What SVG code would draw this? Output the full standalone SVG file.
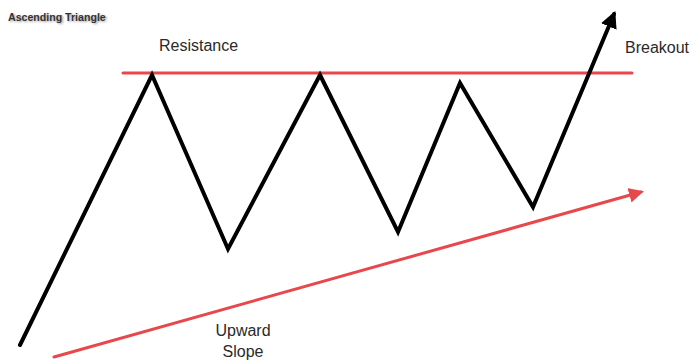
<svg xmlns="http://www.w3.org/2000/svg" width="692" height="362" viewBox="0 0 692 362">
  <defs>
    <style>
      .lbl { font-family: "Liberation Sans", Arial, sans-serif; font-size: 16px; fill: #2a2a2a; }
      .title { font-family: "Liberation Sans", Arial, sans-serif; font-size: 10.6px; fill: #333; font-weight: bold; }
      .red { stroke: #e8474c; stroke-width: 3; fill: none; stroke-linecap: round; }
      .blk { stroke: #000; stroke-width: 4; fill: none; stroke-linejoin: miter; stroke-linecap: round; }
    </style>
    <filter id="sh" x="-10%" y="-50%" width="120%" height="200%">
      <feGaussianBlur stdDeviation="1"/>
    </filter>
    <marker id="ab" viewBox="0 0 10 10" refX="8" refY="5" markerWidth="4.2" markerHeight="4.2" orient="auto" markerUnits="strokeWidth">
      <path d="M0,0 L10,5 L0,10 z" fill="#000"/>
    </marker>
    <marker id="ar" viewBox="0 0 10 10" refX="8" refY="5" markerWidth="5" markerHeight="5" orient="auto" markerUnits="strokeWidth">
      <path d="M0,0 L10,5 L0,10 z" fill="#e8474c"/>
    </marker>
  </defs>
  <rect width="692" height="362" fill="#fff"/>

  <g id="title">
    <text x="9.5" y="22" font-family="Liberation Sans, Arial, sans-serif" font-size="10.6" font-weight="bold" fill="#999" filter="url(#sh)">Ascending Triangle</text>
    <text x="8" y="21" class="title">Ascending Triangle</text>
  </g>

  <g id="connectors">
    <line id="resistance-line" class="red" x1="123" y1="73" x2="632" y2="73"/>
    <line id="upward-slope-line" class="red" x1="54" y1="357" x2="641" y2="192" marker-end="url(#ar)"/>
    <polyline id="price" class="blk" points="20,345 152,75 228,249 320,75 398,232 460,83 533,207 614,14" marker-end="url(#ab)"/>
  </g>

  <g id="resistance">
    <text class="lbl" x="159" y="51">Resistance</text>
  </g>
  <g id="breakout">
    <text class="lbl" x="625" y="53">Breakout</text>
  </g>
  <g id="upward-slope">
    <text class="lbl" x="243" y="336" text-anchor="middle">Upward</text>
    <text class="lbl" x="243" y="357" text-anchor="middle">Slope</text>
  </g>
</svg>
